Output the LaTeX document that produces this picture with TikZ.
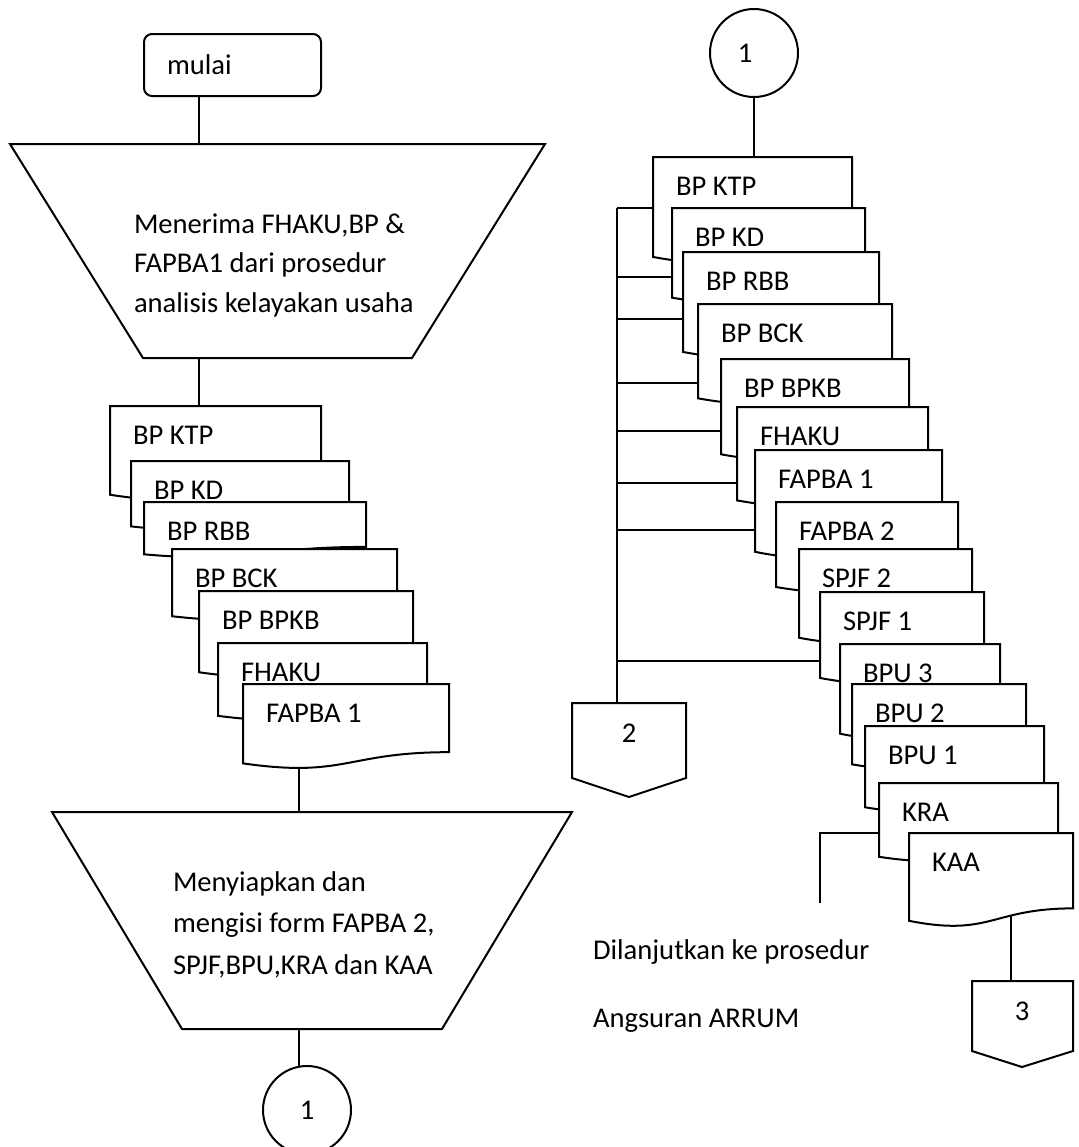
\documentclass[tikz,border=0pt]{standalone}
\usepackage{fontspec}
\setmainfont{Carlito}
\usetikzlibrary{positioning,backgrounds}
% document symbol: name, left, top, width, height, label
\newcommand{\docsym}[6]{
\path[doc] ({#2},{#3}) coordinate (#1-nw) -- ({#2+#4},{#3}) -- ({#2+#4},{#3+0.802*#5})
  .. controls ({#2+0.5*#4},{#3+0.802*#5}) and ({#2+0.5*#4},{#3+1.107*#5}) .. ({#2},{#3+0.934*#5}) coordinate (#1-sw) -- cycle;
\node[doctext] (#1) at ({#2+22},{#3+38}) {#6};
}

\begin{document}
\begin{tikzpicture}[x=0.5pt,y=-0.5pt]
\tikzstyle{every path}=[line width=1pt];
\tikzstyle{doc}=[draw, fill=white];
\tikzstyle{doctext}=[anchor=base west, inner sep=0pt, font=\fontsize{14.3}{17}\selectfont];
\tikzstyle{conn}=[draw, circle, fill=white, minimum size=44pt, inner sep=0pt, font=\fontsize{14.3}{17}\selectfont];
\useasboundingbox (0,0) rectangle (1078,1147);

% left column
\node[draw, rounded corners=4pt, minimum height=31pt, text width=65.5pt, inner xsep=11.5pt, align=left,
  font=\fontsize{14.3}{17}\selectfont] (mulai) at (232.5,65) {mulai};
\path[draw] (10,144) coordinate (trapA-n) -- (545,144) -- (412,358) -- (143,358) coordinate (trapA-s) -- cycle;
\node[anchor=base west, inner sep=0pt, align=left, font=\fontsize{14.3}{19.75}\selectfont] (textA) at (133,312)
  {Menerima FHAKU,BP \&\\FAPBA1 dari prosedur\\analisis kelayakan usaha};

\docsym{lktp}{110}{406}{211}{95}{BP KTP}
\docsym{lkd}{131}{461}{218}{70}{BP KD}
\docsym{lrbb}{144}{502}{222}{56}{BP RBB}
\docsym{lbck}{172}{549}{225}{72}{BP BCK}
\docsym{lbpkb}{199}{591}{214}{87}{BP BPKB}
\docsym{lfhaku}{218}{643}{209}{78}{FHAKU}
\docsym{lfapba1}{243}{684}{206}{85}{FAPBA 1}

\path[draw] (52,812) coordinate (trapB-n) -- (572,812) -- (442,1029) -- (182,1029) coordinate (trapB-s) -- cycle;
\node[anchor=base west, inner sep=0pt, align=left, font=\fontsize{14.3}{20.75}\selectfont] (textB) at (172,974)
  {Menyiapkan dan\\mengisi form FAPBA 2,\\SPJF,BPU,KRA dan KAA};
\node[conn] (circB) at (307,1110) {1};

% right column
\node[conn] (circA) at (754,53) {\kern-4.5pt 1\kern4.5pt};
\docsym{rktp}{653}{157}{199}{107}{BP KTP}
\docsym{rkd}{672}{208}{193}{96}{BP KD}
\docsym{rrbb}{683}{252}{196}{107}{BP RBB}
\docsym{rbck}{698}{304}{194}{101}{BP BCK}
\docsym{rbpkb}{721}{359}{188}{102}{BP BPKB}
\docsym{rfhaku}{737}{407}{191}{100}{FHAKU}
\docsym{rfapba1}{755}{450}{187}{109}{FAPBA 1}
\docsym{rfapba2}{776}{502}{182}{91}{FAPBA 2}
\docsym{rspjf2}{799}{549}{173}{95}{SPJF 2}
\docsym{rspjf1}{820}{592}{164}{92}{SPJF 1}
\docsym{rbpu3}{840}{644}{160}{96}{BPU 3}
\docsym{rbpu2}{852}{684}{174}{86}{BPU 2}
\docsym{rbpu1}{865}{726}{179}{87}{BPU 1}
\docsym{rkra}{879}{783}{179}{79}{KRA}
\docsym{rkaa}{909}{833}{164}{94}{KAA}

% off-page connectors
\path[draw] (572,703) coordinate (o2-nw) -- (686,703) -- (686,778) -- (629,797) -- (572,778) -- cycle;
\node[anchor=base, inner sep=0pt, font=\fontsize{14.3}{17}\selectfont] (off2) at (629,742) {2};
\path[draw] (972,981) coordinate (o3-nw) -- (1073,981) -- (1073,1051) -- (1022,1067) -- (972,1051) -- cycle;
\node[anchor=base, inner sep=0pt, font=\fontsize{14.3}{17}\selectfont] (off3) at (1022,1020) {3};

\node[anchor=base west, inner sep=0pt, align=left, font=\fontsize{14.3}{34}\selectfont] (note) at (592,1027)
  {Dilanjutkan ke prosedur\\Angsuran ARRUM};

\coordinate (c1) at (199,0);
\coordinate (c2) at (299,0);
\coordinate (c3) at (1011,0);
\coordinate (bus) at (617,208);
\coordinate (brk) at (820,903);

\begin{scope}[on background layer]
\draw (mulai.south -| c1) -- (trapA-n -| c1);
\draw (trapA-s -| c1) -- (lktp-nw -| c1);
\draw (c2 |- trapB-n) -- (c2 |- lfapba1-nw);
\draw (c2 |- trapB-s) -- (c2 |- circB.center);
\draw (circA.south) -- (rktp-nw -| circA.south);
\draw (bus) -- (bus |- o2-nw);
\draw (bus) -- (rktp-nw |- bus);
\draw (bus |- 0,277) -- (rkd-nw |- 0,277);
\draw (bus |- 0,319) -- (rrbb-nw |- 0,319);
\draw (bus |- 0,383) -- (rbck-nw |- 0,383);
\draw (bus |- 0,431) -- (rbpkb-nw |- 0,431);
\draw (bus |- 0,483) -- (rfhaku-nw |- 0,483);
\draw (bus |- 0,530) -- (rfapba1-nw |- 0,530);
\draw (bus |- 0,661) -- (rspjf1-nw |- 0,661);
\draw (brk) |- (rkaa-nw);
\draw (c3 |- o3-nw) -- (c3 |- rkaa-nw);
\end{scope}
\end{tikzpicture}
\end{document}
